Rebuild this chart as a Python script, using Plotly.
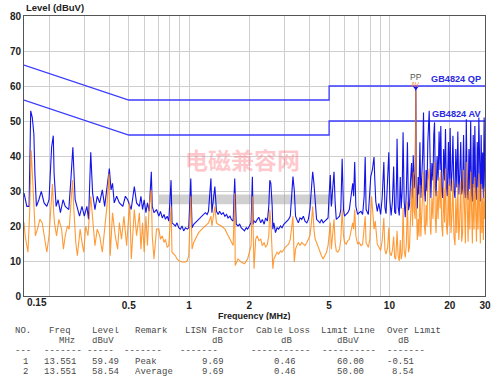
import math
import plotly.graph_objects as go

# ---------------- data ----------------
peak_freq = [0.150,0.155,0.159,0.162,0.165,0.168,0.170,0.173,0.178,0.183,0.189,0.195,0.200,0.206,0.210,0.212,0.217,0.222,0.228,0.235,0.241,0.251,0.257,0.263,0.270,0.275,0.284,0.292,0.300,0.309,0.315,0.323,0.330,0.339,0.348,0.358,0.369,0.379,0.389,0.400,0.408,0.415,0.423,0.435,0.449,0.467,0.481,0.494,0.514,0.533,0.547,
    0.565,0.575,0.586,0.597,0.609,0.620,0.632,0.648,0.655,0.668,0.688,0.707,0.720,0.735,0.750,0.762,0.778,0.792,0.813,0.822,0.840,0.855,0.870,0.888,0.905,0.922,0.940,0.959,0.980,0.996,1.02,1.035,1.055,1.075,1.095,1.116,1.14,1.16,1.18,1.205,1.23,1.25,1.286,1.30,1.345,1.37,1.397,1.42,1.45,1.48,1.51,1.54,1.565,1.60,1.626,1.66,1.69,1.72,1.755,1.79,1.82,1.855,1.89,1.93,1.96,2.00,2.04,2.07,2.09,2.11,2.15,2.19,
    2.23,2.28,2.32,2.37,2.41,2.46,2.50,2.53,2.56,2.60,2.62,2.65,2.70,2.75,2.80,2.86,2.91,2.97,3.02,3.08,3.14,3.20,3.25,3.30,3.35,3.40,3.45,3.51,3.58,3.65,3.72,3.79,3.87,3.94,4.01,4.08,4.14,4.20,4.26,4.33,4.42,4.50,4.58,4.67,4.76,4.85,4.94,5.00,5.07,5.13,5.21,5.29,5.36,5.43,5.53,5.64,5.72,5.81,5.90,5.97,6.08,6.20,6.31,6.43,6.56,6.63,6.71,6.80,6.94,7.06,7.21,7.35,7.48,7.57,7.65,7.85,7.98,8.07,8.22,8.38,
    8.45,8.55,8.70,8.85,9.04,9.20,9.38,9.50,9.62,9.75,9.93,10.05,10.20,10.35,10.50,10.62,10.75,10.85,10.92,11.05,11.20,11.33,11.45,11.58,11.70,11.85,12.00,12.15,12.30,12.45,12.60,12.75,12.90,13.05,13.15,13.30,13.45,13.551,13.62,13.78,13.92,14.05,14.20,14.35,14.50,14.65,14.80,14.95,15.10,15.25,15.40,15.55,15.80,15.95,16.10,16.30,16.50,16.65,16.80,16.95,17.10,17.30,17.50,17.70,17.90,18.05,18.25,18.45,18.65,18.85,19.05,19.25,19.45,19.70,19.90,20.10,20.30,20.55,20.75,21.00,21.25,21.45,21.70,21.95,22.20,22.45,22.70,22.95,23.20,23.45,23.70,23.95,24.20,24.45,24.70,24.95,25.20,25.45,25.70,25.95,26.20,26.45,26.70,26.95,27.20,27.45,27.70,27.95,28.20,28.45,28.70,28.95,29.20,29.45,29.70,29.85,30.00]
peak_level = [29.4,25.6,25.6,52.9,51.0,46.3,35.0,25.6,27.5,29.9,26.6,25.6,27.5,42.5,45.8,35.0,25.6,27.5,23.8,27.5,25.6,24.7,33.1,42.5,27.5,25.6,22.8,25.6,22.8,25.6,21.9,41.1,29.4,24.7,28.5,26.6,30.3,25.6,31.3,36.4,30.3,32.2,26.6,28.5,26.6,25.6,28.5,27.5,24.7,31.3,26.6,
    25.6,28.5,24.7,27.5,23.8,26.6,24.2,35.5,25.6,23.8,24.7,22.8,24.2,22.3,23.3,21.9,22.8,21.4,33.1,20.9,20.5,20.0,20.9,19.5,19.1,20.0,18.6,19.5,19.1,19.5,33.6,19.5,20.5,21.0,21.5,22.0,22.3,22.8,23.3,23.8,23.3,24.2,33.6,23.8,31.3,24.2,23.3,24.2,23.3,23.8,22.8,23.3,22.3,22.8,21.9,21.4,33.6,20.5,20.0,20.5,19.5,19.1,18.6,19.5,19.1,20.0,21.0,34.1,20.5,21.4,21.0,21.9,
    22.5,20.9,21.9,20.5,22.3,21.4,25.6,33.1,32.2,25.6,19.1,20.9,18.1,19.5,19.1,20.0,19.5,20.5,20.9,21.4,21.9,22.8,28.5,34.1,30.3,22.8,21.9,20.9,22.3,21.9,22.8,21.4,20.9,21.9,24.7,32.2,35.5,32.2,26.6,21.9,21.4,20.9,21.9,20.9,21.4,21.9,22.3,28.5,34.6,25.6,32.2,35.5,26.6,21.9,22.3,22.8,24.7,39.2,24.7,22.8,23.3,23.8,24.7,28.5,32.2,28.5,38.3,25.6,23.3,23.8,24.2,23.3,28.5,39.7,24.7,23.3,28.5,34.1,36.0,39.7,
    33.6,27.0,24.2,26.5,23.3,28.0,38.3,25.2,23.5,30.0,41.1,27.5,23.0,27.0,37.0,24.0,23.5,33.0,44.9,25.5,23.0,34.0,25.0,30.0,46.8,27.0,22.5,30.0,43.9,24.5,26.0,33.0,38.0,28.0,40.2,30.8,35.0,59.49,33.6,25.0,34.0,29.0,43.9,28.0,33.0,40.0,52.4,30.0,27.0,36.0,30.0,44.0,52.9,30.5,28.0,38.0,33.0,46.0,49.6,31.0,28.5,40.0,33.0,47.0,36.0,48.6,30.0,28.0,42.0,33.0,47.7,31.0,28.5,44.0,31.5,48.0,30.0,36.0,45.8,30.0,28.0,42.0,31.0,47.0,29.0,35.0,44.0,29.0,31.0,46.0,30.0,28.0,50.5,30.0,27.5,42.0,30.5,50.0,29.0,27.0,46.0,31.0,48.6,30.0,27.5,44.0,31.0,51.0,30.0,27.0,46.0,30.5,41.0,28.0,51.0,33.0,30.0]

avg_freq = [0.150,0.152,0.157,0.160,0.163,0.166,0.168,0.171,0.175,0.180,0.185,0.190,0.195,0.200,0.208,0.211,0.213,0.218,0.224,0.231,0.236,0.241,0.247,0.252,0.262,0.266,0.272,0.277,0.286,0.292,0.298,0.305,0.313,0.323,0.330,0.339,0.348,0.358,0.369,0.379,0.389,0.398,0.404,0.415,0.428,0.440,0.449,0.460,0.473,0.488,0.505,0.515,0.533,0.547,
    0.565,0.575,0.586,0.597,0.609,0.620,0.632,0.648,0.655,0.668,0.688,0.707,0.720,0.735,0.750,0.762,0.778,0.792,0.813,0.822,0.855,0.870,0.888,0.922,0.959,0.980,0.996,1.02,1.035,1.055,1.075,1.095,1.116,1.16,1.205,1.25,1.286,1.30,1.345,1.37,1.397,1.45,1.51,1.565,1.626,1.66,1.69,1.70,1.755,1.82,1.89,1.96,2.00,2.04,2.07,2.11,2.15,2.19,
    2.23,2.28,2.32,2.37,2.41,2.46,2.50,2.53,2.56,2.60,2.62,2.65,2.70,2.75,2.80,2.86,2.91,2.97,3.02,3.08,3.14,3.20,3.25,3.30,3.35,3.40,3.45,3.51,3.58,3.65,3.72,3.79,3.87,3.94,4.01,4.08,4.14,4.20,4.26,4.33,4.42,4.50,4.58,4.67,4.76,4.85,4.94,5.00,5.07,5.13,5.21,5.29,5.36,5.43,5.53,5.64,5.72,5.81,5.90,5.97,6.08,6.20,6.31,6.43,6.56,6.63,6.71,6.80,6.94,7.06,7.21,7.35,7.48,7.57,7.65,7.85,7.98,8.07,8.15,8.22,8.38,
    8.50,8.62,8.70,8.87,9.04,9.20,9.38,9.50,9.62,9.80,9.93,10.05,10.20,10.35,10.50,10.62,10.75,10.92,11.05,11.20,11.33,11.45,11.58,11.70,11.85,12.00,12.15,12.30,12.45,12.60,12.75,12.90,13.05,13.15,13.30,13.45,13.551,13.62,13.78,13.92,14.05,14.20,14.35,14.50,14.65,14.80,14.95,15.10,15.25,15.40,15.55,15.80,15.95,16.10,16.30,16.50,16.65,16.80,16.95,17.10,17.30,17.50,17.70,17.90,18.05,18.25,18.45,18.65,18.85,19.05,19.25,19.45,19.70,19.90,20.10,20.30,20.55,20.75,21.00,21.25,21.45,21.70,21.95,22.20,22.45,22.70,22.95,23.20,23.45,23.70,23.95,24.20,24.45,24.70,24.95,25.20,25.45,25.70,25.95,26.20,26.45,26.70,26.95,27.20,27.45,27.70,27.95,28.20,28.45,28.70,28.95,29.20,29.45,29.70,29.85,30.00]
avg_level = [21.0,17.2,12.5,23.8,41.6,33.1,25.6,17.2,19.1,21.9,20.9,16.2,12.5,17.2,32.0,23.8,20.9,17.2,21.9,19.1,13.4,17.2,20.0,19.1,33.1,24.7,15.3,11.5,19.1,15.3,12.5,20.0,17.2,28.5,21.0,14.4,19.1,17.2,12.5,20.0,25.6,35.0,11.5,23.8,17.2,13.4,21.0,16.2,22.8,14.4,26.6,10.6,24.7,17.2,
    23.8,13.4,20.9,12.5,22.8,14.4,25.6,30.3,17.2,10.6,19.1,19.1,16.2,17.2,15.3,16.2,13.9,14.4,25.6,12.5,11.5,10.6,10.1,9.7,9.7,10.1,11.5,28.5,13.4,15.3,16.2,17.2,18.1,19.1,20.0,20.9,22.8,20.0,25.6,20.9,20.5,20.0,19.1,17.2,15.3,14.4,29.4,8.7,10.6,9.7,9.2,10.6,12.5,14.4,28.5,7.8,16.2,17.2,
    15.8,16.2,14.4,15.3,13.9,14.8,17.2,24.7,20.9,13.4,7.8,10.6,11.5,12.5,12.0,12.9,12.5,13.4,13.9,14.4,14.8,16.2,19.1,22.8,9.7,13.4,14.4,15.3,14.4,15.3,14.8,14.4,15.3,16.2,17.2,20.9,25.6,19.1,16.2,15.3,13.9,12.5,11.5,10.6,11.5,12.5,14.4,17.2,20.9,13.4,19.1,21.9,15.3,12.9,12.5,13.4,16.2,24.7,17.2,15.3,14.8,15.8,16.2,18.1,20.9,19.1,24.7,17.2,14.8,15.3,14.4,14.8,19.1,22.8,15.3,13.9,16.2,20.9,28.5,25.6,19.1,
    21.4,17.7,14.8,13.9,13.0,15.8,22.3,13.0,12.0,13.9,19.5,12.5,11.5,13.0,17.0,11.0,10.5,18.6,11.5,10.0,16.0,10.5,12.0,25.2,13.0,11.0,15.0,27.0,12.5,14.0,22.0,30.8,20.0,35.5,24.2,22.0,58.54,27.0,16.0,22.0,17.0,31.7,17.0,22.0,30.0,35.5,20.0,17.5,26.0,20.0,32.7,36.4,21.0,17.5,28.0,22.0,34.0,38.3,22.0,18.0,30.0,22.0,34.0,25.0,35.5,20.0,17.0,31.0,21.0,36.4,20.0,17.5,32.0,20.0,33.6,18.0,24.0,33.0,17.0,14.5,28.0,18.0,32.0,16.0,22.0,33.0,15.5,18.0,36.0,19.0,15.0,38.3,19.0,15.5,30.0,19.0,35.5,17.0,15.0,32.0,19.0,34.0,18.0,15.5,31.0,19.0,35.0,19.0,15.0,32.0,18.0,28.0,16.0,31.0,22.0,27.0]

# limit lines (GB4824)
qp_freq = [0.15, 0.5, 5.0, 5.0, 30.0]
qp_level = [66, 56, 56, 60, 60]
av_freq = [0.15, 0.5, 5.0, 5.0, 30.0]
av_level = [56, 46, 46, 50, 50]

# final measurement point
pk_freq = 13.551
pk_level = 59.49

x_tick_vals = [0.15, 0.2, 0.3, 0.4, 0.5, 0.6, 0.7, 0.8, 0.9, 1, 2, 3, 4, 5, 6, 7, 8, 9, 10, 20, 30]
x_tick_text = ["", "", "", "", "0.5", "", "", "", "", "1", "2", "", "", "5", "", "", "", "", "10", "20", "30"]
first_tick_label = "0.15"
y_tick_vals = [0, 10, 20, 30, 40, 50, 60, 70, 80]

table_h1 = ["NO.", "Freq", "Level", "Remark", "LISN Factor", "Cable Loss", "Limit Line", "Over Limit"]
table_h2 = ["", "MHz", "dBuV", "", "dB", "dB", "dBuV", "dB"]
table_dash = ["---", "-------", "-----", "-------", "-------", "-----------", "----------", "-------"]
table_row1 = ["1", "13.551", "59.49", "Peak", "9.69", "0.46", "60.00", "-0.51"]
table_row2 = ["2", "13.551", "58.54", "Average", "9.69", "0.46", "50.00", "8.54"]

# watermark band (decorative)
band_freq = [0.707, 5.26, 5.26, 0.707]
band_level = [26.2, 26.2, 29.0, 29.0]

# ---------------- figure ----------------
W, H = 501, 385
ML, MR, MT, MB = 23, 10, 12, 89
PW, PH = W - ML - MR, H - MT - MB

def px(xp):
    return (xp - ML) / PW

def py(yp):
    return (H - MB - yp) / PH

BLUE = "#1414e6"
ORANGE = "#ff8a14"
LIMIT = "#3c3cff"
FONT = "Liberation Sans, Arial, sans-serif"

fig = go.Figure()

fig.add_trace(go.Scatter(x=band_freq, y=band_level, mode="lines", fill="toself",
                         fillcolor="rgba(150,150,150,0.45)", line=dict(width=0), hoverinfo="skip"))
fig.add_trace(go.Scatter(x=qp_freq, y=qp_level, mode="lines", line=dict(color=LIMIT, width=1.3), hoverinfo="skip"))
fig.add_trace(go.Scatter(x=av_freq, y=av_level, mode="lines", line=dict(color=LIMIT, width=1.3), hoverinfo="skip"))
fig.add_trace(go.Scatter(x=peak_freq, y=peak_level, mode="lines", line=dict(color=BLUE, width=1.1)))
fig.add_trace(go.Scatter(x=avg_freq, y=avg_level, mode="lines", line=dict(color=ORANGE, width=1.1), opacity=0.85))
fig.add_trace(go.Scatter(x=[pk_freq], y=[pk_level], mode="markers",
                         marker=dict(symbol="triangle-down", size=5, color=BLUE)))

ann = []
ann.append(dict(text="<b>Level (dBuV)</b>", x=0, y=1, xref="paper", yref="paper", xanchor="left", yanchor="bottom",
                yshift=1, showarrow=False, font=dict(family=FONT, size=9.5, color="#222")))
ann.append(dict(text="<b>%s</b>" % first_tick_label, x=px(24), y=py(303), xref="paper", yref="paper",
                xanchor="left", yanchor="middle", showarrow=False, font=dict(family=FONT, size=10, color="#222")))
ann.append(dict(text="<b>Frequency (MHz)</b>", x=px(257), y=py(315.5), xref="paper", yref="paper", xanchor="center",
                yanchor="middle", showarrow=False, height=9, borderpad=0,
                font=dict(family=FONT, size=9, color="#222")))
ann.append(dict(text="<b>GB4824 QP</b>", x=px(489), y=60, xref="paper", yref="y", xanchor="right", yanchor="bottom",
                showarrow=False, height=10, font=dict(family=FONT, size=9.2, color="#2a2ae0")))
ann.append(dict(text="<b>GB4824 AV</b>", x=px(489), y=50, xref="paper", yref="y", xanchor="right", yanchor="bottom",
                showarrow=False, height=10, font=dict(family=FONT, size=9.2, color="#2a2ae0")))
ann.append(dict(text="PP", x=math.log10(pk_freq), y=py(73.5), xref="x", yref="paper", xanchor="center",
                yanchor="middle", showarrow=False, height=7, borderpad=0,
                font=dict(family=FONT, size=8.5, color="#555")))
ann.append(dict(text="AV", x=math.log10(pk_freq), y=py(81.5), xref="x", yref="paper", xanchor="center",
                yanchor="middle", showarrow=False, height=5, borderpad=0,
                font=dict(family=FONT, size=6.5, color="rgba(255,120,40,0.95)")))
ann.append(dict(text="<b>电磁兼容网</b>", x=px(245), y=py(157), xref="paper", yref="paper", xanchor="center",
                yanchor="middle", showarrow=False,
                font=dict(family="Noto Sans CJK SC", size=23, color="rgba(255,110,120,0.38)")))

# table
col_x = {
    "h1": [13, 47, 91, 135, 185, 257, 323, 390],
    "h2": [13, 58, 91, 135, 213, 283, 340, 402],
    "dash": [13, 42, 86, 124, 180, 252, 325, 390],
    "r1": [21, 42, 91, 135, 203, 276, 340, 390],
    "r2": [21, 42, 91, 135, 203, 276, 340, 396],
}
row_y = {"h1": 331, "h2": 341.5, "dash": 352, "r1": 362.5, "r2": 373}
rows = {"h1": table_h1, "h2": table_h2, "dash": table_dash, "r1": table_row1, "r2": table_row2}
for key, cells in rows.items():
    for xp, txt in zip(col_x[key], cells):
        if not txt:
            continue
        ann.append(dict(text=txt, x=px(xp), y=py(row_y[key]), xref="paper", yref="paper", xanchor="left",
                        yanchor="middle", showarrow=False, height=8, borderpad=0,
                        font=dict(family="Liberation Mono, monospace", size=9, color="#4a4a4a")))

fig.update_layout(
    width=W, height=H,
    margin=dict(l=ML, r=MR, t=MT, b=MB, pad=0),
    paper_bgcolor="white", plot_bgcolor="white",
    showlegend=False,
    annotations=ann,
    xaxis=dict(type="log", range=[math.log10(0.15), math.log10(30)], tickvals=x_tick_vals,
               ticktext=["<b>%s</b>" % t if t else "" for t in x_tick_text],
               showgrid=True, gridcolor="#cfcfcf", gridwidth=1, zeroline=False,
               showline=True, linecolor="#555", linewidth=1, mirror=True, ticks="",
               tickfont=dict(family=FONT, size=10, color="#222"), tickangle=0),
    yaxis=dict(range=[0, 80], tickvals=y_tick_vals, ticktext=["<b>%d</b>" % v for v in y_tick_vals],
               showgrid=True, gridcolor="#cfcfcf", gridwidth=1, zeroline=False,
               showline=True, linecolor="#555", linewidth=1, mirror=True, ticks="",
               tickfont=dict(family=FONT, size=10, color="#222")),
)

fig.write_html("out.html", config={"displayModeBar": False},
               post_script="document.body.style.margin='0';")
